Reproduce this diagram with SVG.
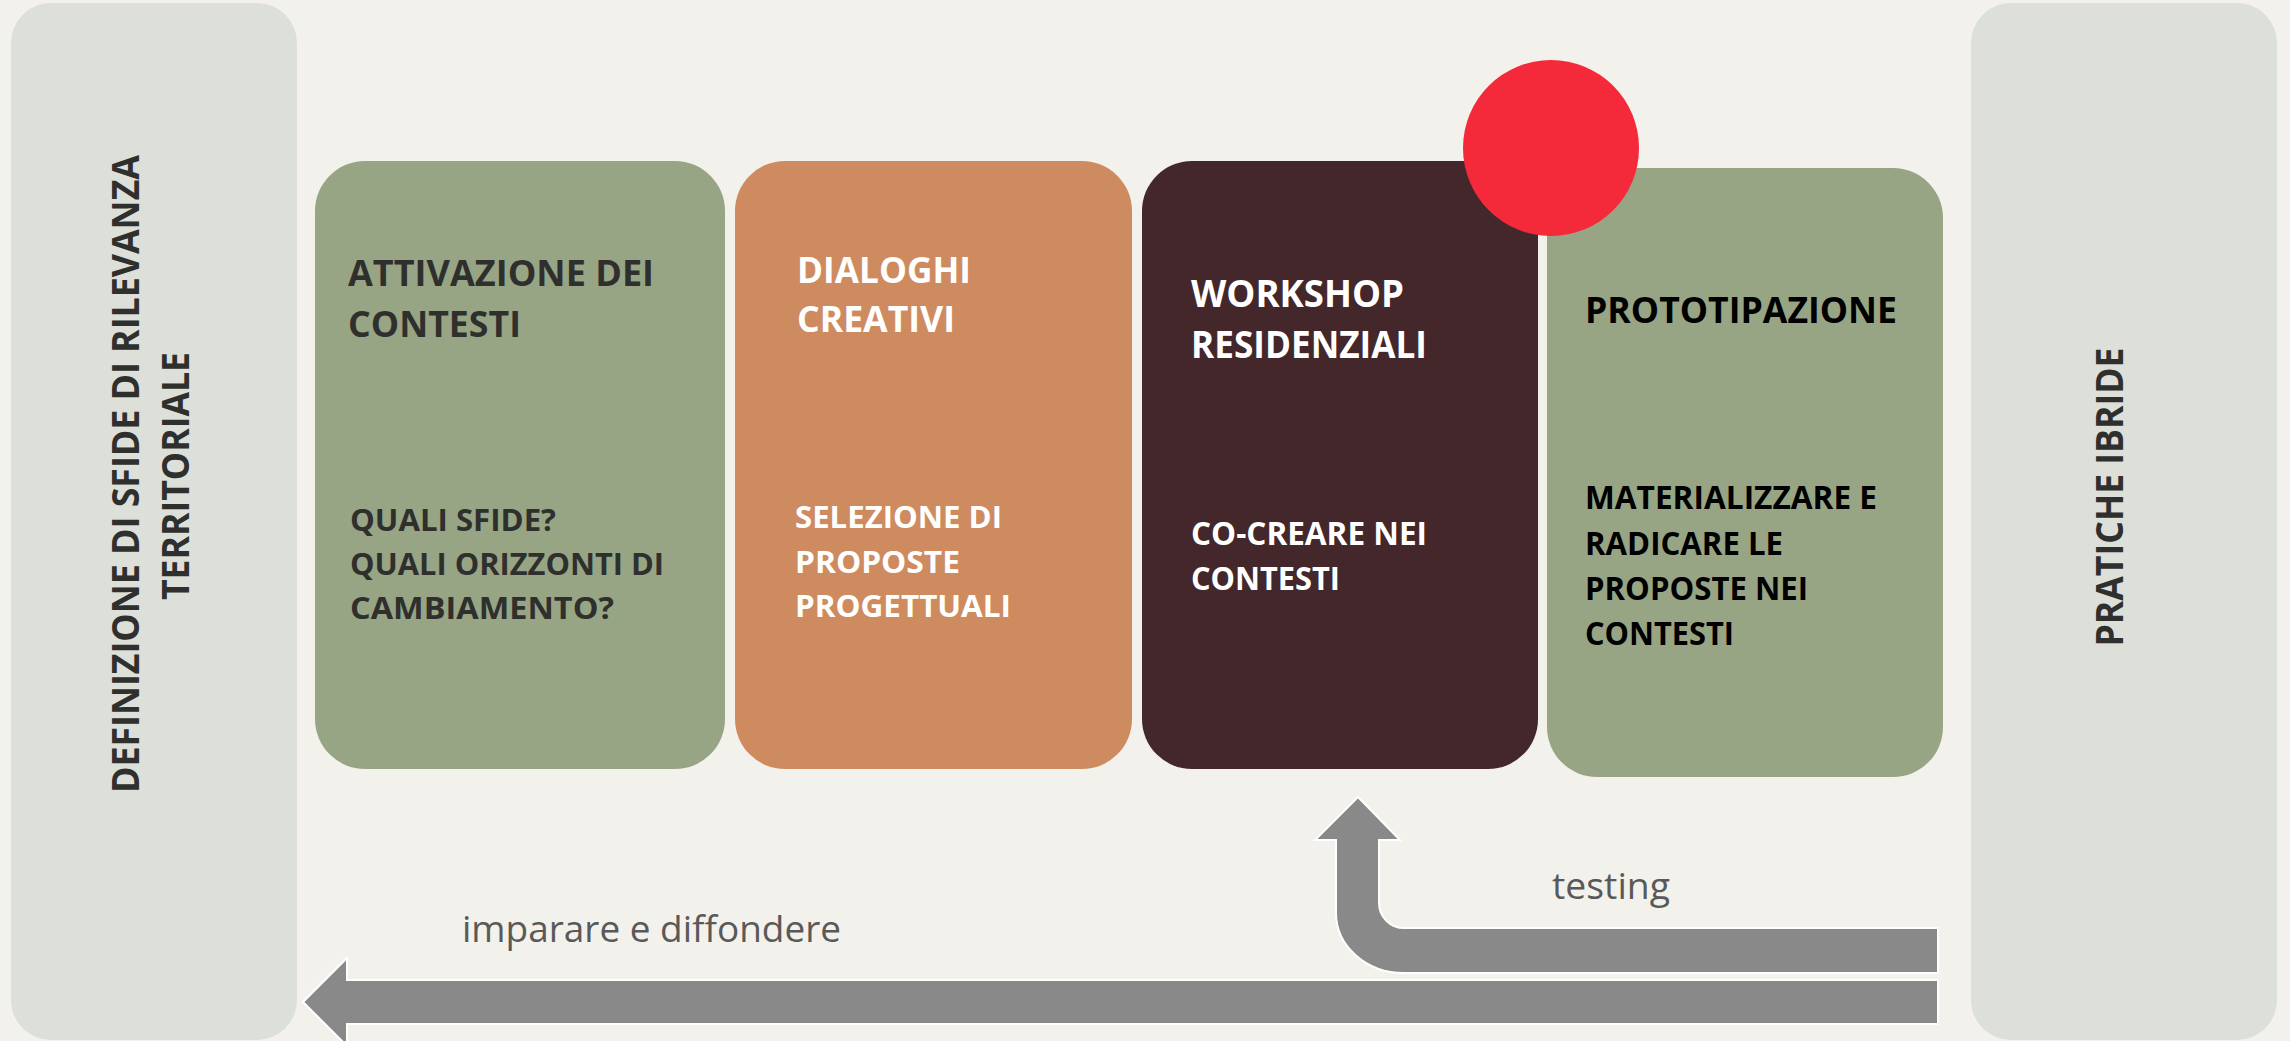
<svg xmlns="http://www.w3.org/2000/svg" width="2290" height="1041" viewBox="0 0 2290 1041">
<style>
.t{font-family:"Open Sans","Liberation Sans",sans-serif;font-weight:700;}
.r{font-family:"Open Sans","Liberation Sans",sans-serif;font-weight:400;fill:#595959;font-size:36px;}
.dk{fill:#2F302D;}
.bk{fill:#000000;}
.wh{fill:#FFFFFF;}
.arrow{fill:#898989;stroke:#FFFFFF;stroke-width:2;stroke-linejoin:miter;}
</style>
<rect x="0" y="0" width="2290" height="1041" fill="#F3F1EC"/>

<g id="panel-left">
<rect x="11" y="3" width="286" height="1037" rx="40" ry="40" fill="#DDE0D9"/>
<text class="t dk" font-size="38" text-anchor="middle" transform="translate(139,474) rotate(-90)" textLength="638" lengthAdjust="spacingAndGlyphs">DEFINIZIONE DI SFIDE DI RILEVANZA</text>
<text class="t dk" font-size="38" text-anchor="middle" transform="translate(189,476) rotate(-90)" textLength="248" lengthAdjust="spacingAndGlyphs">TERRITORIALE</text>
</g>

<g id="panel-right">
<rect x="1971" y="3" width="306" height="1037" rx="40" ry="40" fill="#DDE0D9"/>
<text class="t dk" font-size="38" text-anchor="middle" transform="translate(2123,497) rotate(-90)" textLength="299" lengthAdjust="spacingAndGlyphs">PRATICHE IBRIDE</text>
</g>

<g id="box-attivazione">
<rect x="315" y="161" width="410" height="608" rx="50" ry="50" fill="#97A585"/>
<text class="t dk" font-size="35" x="348" y="286" textLength="306" lengthAdjust="spacingAndGlyphs">ATTIVAZIONE DEI</text>
<text class="t dk" font-size="35" x="348" y="337" textLength="173" lengthAdjust="spacingAndGlyphs">CONTESTI</text>
<text class="t dk" font-size="31" x="350" y="531" textLength="206" lengthAdjust="spacingAndGlyphs">QUALI SFIDE?</text>
<text class="t dk" font-size="31" x="350" y="575" textLength="314" lengthAdjust="spacingAndGlyphs">QUALI ORIZZONTI DI</text>
<text class="t dk" font-size="31" x="350" y="619" textLength="264" lengthAdjust="spacingAndGlyphs">CAMBIAMENTO?</text>
</g>

<g id="box-dialoghi">
<rect x="735" y="161" width="397" height="608" rx="50" ry="50" fill="#CF8B60"/>
<text class="t wh" font-size="36" x="797" y="283" textLength="174" lengthAdjust="spacingAndGlyphs">DIALOGHI</text>
<text class="t wh" font-size="36" x="797" y="332" textLength="158" lengthAdjust="spacingAndGlyphs">CREATIVI</text>
<text class="t wh" font-size="30" x="795" y="528" textLength="207" lengthAdjust="spacingAndGlyphs">SELEZIONE DI</text>
<text class="t wh" font-size="30" x="795" y="573" textLength="165" lengthAdjust="spacingAndGlyphs">PROPOSTE</text>
<text class="t wh" font-size="30" x="795" y="617" textLength="216" lengthAdjust="spacingAndGlyphs">PROGETTUALI</text>
</g>

<g id="box-workshop">
<rect x="1142" y="161" width="396" height="608" rx="50" ry="50" fill="#43272A"/>
<text class="t wh" font-size="37" x="1191" y="307" textLength="213" lengthAdjust="spacingAndGlyphs">WORKSHOP</text>
<text class="t wh" font-size="37" x="1191" y="358" textLength="236" lengthAdjust="spacingAndGlyphs">RESIDENZIALI</text>
<text class="t wh" font-size="32" x="1191" y="545" textLength="236" lengthAdjust="spacingAndGlyphs">CO-CREARE NEI</text>
<text class="t wh" font-size="32" x="1191" y="590" textLength="149" lengthAdjust="spacingAndGlyphs">CONTESTI</text>
</g>

<g id="box-prototipazione">
<rect x="1547" y="168" width="396" height="609" rx="50" ry="50" fill="#97A585"/>
<text class="t bk" font-size="36" x="1585" y="323" textLength="312" lengthAdjust="spacingAndGlyphs">PROTOTIPAZIONE</text>
<text class="t bk" font-size="32" x="1585" y="509" textLength="292" lengthAdjust="spacingAndGlyphs">MATERIALIZZARE E</text>
<text class="t bk" font-size="32" x="1585" y="555" textLength="198" lengthAdjust="spacingAndGlyphs">RADICARE LE</text>
<text class="t bk" font-size="32" x="1585" y="600" textLength="223" lengthAdjust="spacingAndGlyphs">PROPOSTE NEI</text>
<text class="t bk" font-size="32" x="1585" y="645" textLength="149" lengthAdjust="spacingAndGlyphs">CONTESTI</text>
</g>

<g id="marker-dot">
<circle cx="1551" cy="148" r="88" fill="#F42A3A"/>
</g>

<g id="connectors">
<path class="arrow" d="M303,1002 L347,958 L347,980 L1938,980 L1938,1024 L347,1024 L347,1046 Z"/>
<path class="arrow" d="M1358,797 L1400,840 L1379,840 L1379,903 A25,25 0 0 0 1404,928 L1938,928 L1938,973 L1404,973 A68,60 0 0 1 1336,913 L1336,840 L1315,840 Z"/>
<text class="r" x="1552" y="899" textLength="118" lengthAdjust="spacingAndGlyphs">testing</text>
<text class="r" x="462" y="942" textLength="379" lengthAdjust="spacingAndGlyphs">imparare e diffondere</text>
</g>
</svg>
